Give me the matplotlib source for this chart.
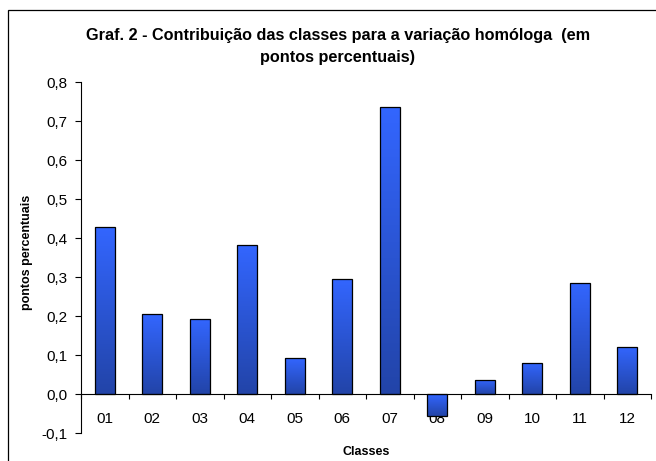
import matplotlib
matplotlib.use("Agg")
import matplotlib.pyplot as plt
import numpy as np
from matplotlib.patches import Rectangle
from matplotlib.colors import LinearSegmentedColormap
from matplotlib.ticker import FixedLocator, FuncFormatter

plt.rcParams['font.family'] = ['Liberation Sans', 'DejaVu Sans']

categories = ["01", "02", "03", "04", "05", "06", "07", "08", "09", "10", "11", "12"]
values = [0.430, 0.205, 0.193, 0.384, 0.092, 0.296, 0.736, -0.055, 0.037, 0.081, 0.286, 0.122]
y_ticks = [-0.1, 0.0, 0.1, 0.2, 0.3, 0.4, 0.5, 0.6, 0.7, 0.8]

title = "Graf. 2 - Contribuição das classes para a variação homóloga  (em\npontos percentuais)"
ylabel = "pontos percentuais"
xlabel = "Classes"

W, H = 656, 461
fig = plt.figure(figsize=(W / 100, H / 100), dpi=100)
ax = fig.add_axes([81 / W, 1 - 433.3 / H, (651 - 81) / W, (433.3 - 82.3) / H])

x = np.arange(len(categories))
bars = ax.bar(x, values, width=0.42, facecolor='none', edgecolor='black', linewidth=0.9, zorder=3)

cmap = LinearSegmentedColormap.from_list("grad", ["#2244A8", "#3366FF"])
grad = np.linspace(0, 1, 256).reshape(-1, 1)
for b in bars:
    x0, y0 = b.get_x(), b.get_y()
    w, h = b.get_width(), b.get_height()
    ylo, yhi = min(y0, y0 + h), max(y0, y0 + h)
    im = ax.imshow(grad, cmap=cmap, origin='lower', aspect='auto',
                   extent=[x0, x0 + w, ylo, yhi], zorder=2, interpolation='bilinear')
    im.set_clip_path(b)

ax.set_xlim(-0.5, len(categories) - 0.5)
ax.set_ylim(-0.1, 0.8)

ax.spines['top'].set_visible(False)
ax.spines['right'].set_visible(False)
ax.spines['bottom'].set_position(('data', 0))
ax.spines['left'].set_linewidth(0.8)
ax.spines['bottom'].set_linewidth(0.8)

ax.set_yticks(y_ticks)
ax.yaxis.set_major_formatter(FuncFormatter(lambda v, p: f"{v:.1f}".replace('.', ',').replace('-0,0', '0,0')))
ax.tick_params(axis='y', direction='out', length=4, width=0.8, pad=5.5, labelsize=11)

ax.set_xticks(x)
ax.set_xticklabels(categories)
ax.xaxis.set_minor_locator(FixedLocator(np.arange(-0.5, len(categories), 1.0)))
ax.tick_params(axis='x', which='major', length=0, pad=13, labelsize=11)
ax.tick_params(axis='x', which='minor', direction='out', length=3.5, width=0.8)

fig.text(338 / W, 1 - 46.5 / H, title, ha='center', va='center', fontsize=11.7,
         fontweight='bold', linespacing=1.55)
fig.text(27 / W, 1 - 252 / H, ylabel, rotation=90, ha='center', va='center',
         fontsize=9, fontweight='bold')
fig.text(366 / W, 1 - 452 / H, xlabel, ha='center', va='center',
         fontsize=9, fontweight='bold')

border = Rectangle((8 / W, -0.05), 1.2, (H - 10) / H + 0.05, transform=fig.transFigure,
                   fill=False, edgecolor='black', linewidth=0.9, clip_on=False)
fig.patches.append(border)

fig.savefig("out.png", dpi=100)
